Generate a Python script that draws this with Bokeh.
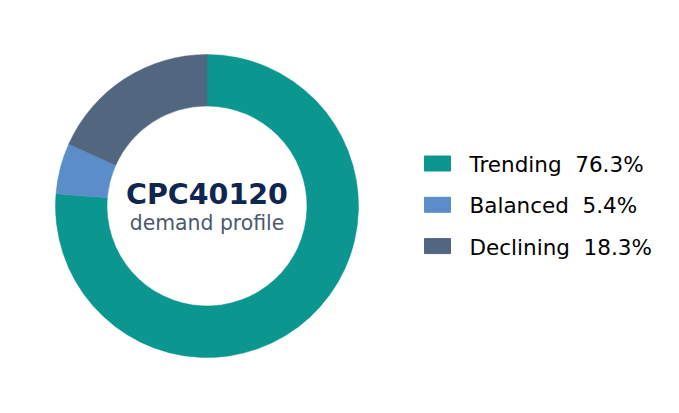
from math import pi

from bokeh.core.properties import value
from bokeh.embed import file_html
from bokeh.models import ColumnDataSource
from bokeh.plotting import figure
from bokeh.resources import INLINE

# data
categories = ["Trending", "Balanced", "Declining"]
shares = [76.3, 5.4, 18.3]
colors = ["#0b968f", "#5b8ec8", "#52667f"]
title_text = "CPC40120"
subtitle_text = "demand profile"

W, H = 663, 397
cx, cy = 206.5, 191.5
r_in, r_out = 100, 151.5

total = sum(shares)
starts, ends = [], []
acc = 0.0
for s in shares:
    starts.append(pi / 2 - acc / total * 2 * pi)
    acc += s
    ends.append(pi / 2 - acc / total * 2 * pi)

source = ColumnDataSource(data={
    "cat": categories,
    "share": shares,
    "color": colors,
    "start": starts,
    "end": ends,
    # non-breaking space keeps the double gap in svg
    "label": [f"{c} \u00a0{s:.1f}%" for c, s in zip(categories, shares)],
    "ly": [234 - i * 41.3 for i in range(len(categories))],
})

p = figure(width=W, height=H, x_range=(0, W), y_range=(0, H),
           output_backend="svg", toolbar_location=None, tools="",
           x_axis_location=None, y_axis_location=None, min_border=0)
p.grid.visible = False
p.outline_line_color = None
p.background_fill_color = "white"

p.annular_wedge(x=cx, y=cy, inner_radius=r_in, outer_radius=r_out,
                start_angle="start", end_angle="end", direction="clock",
                fill_color="color", line_color="color", line_width=0.5, source=source)

p.text(x=[cx], y=[203], text=[title_text], text_align="center",
       text_baseline="alphabetic", text_font=value("DejaVu Sans"),
       text_font_style="bold", text_font_size="28.5px", text_color="#102650")
p.text(x=[cx], y=[174.5], text=[subtitle_text], text_align="center",
       text_baseline="alphabetic", text_font=value("DejaVu Sans"),
       text_font_size="20.4px", text_color="#4a5a6e")

# legend
p.rect(x=437, y="ly", width=26, height=15, fill_color="color",
       line_color="color", source=source)
p.text(x=469, y="ly", text="label", text_align="left", text_baseline="middle",
       text_font=value("DejaVu Sans"), text_font_size="21.5px",
       text_color="black", source=source, y_offset=1)

open("out.html", "w").write(file_html(p, INLINE))
